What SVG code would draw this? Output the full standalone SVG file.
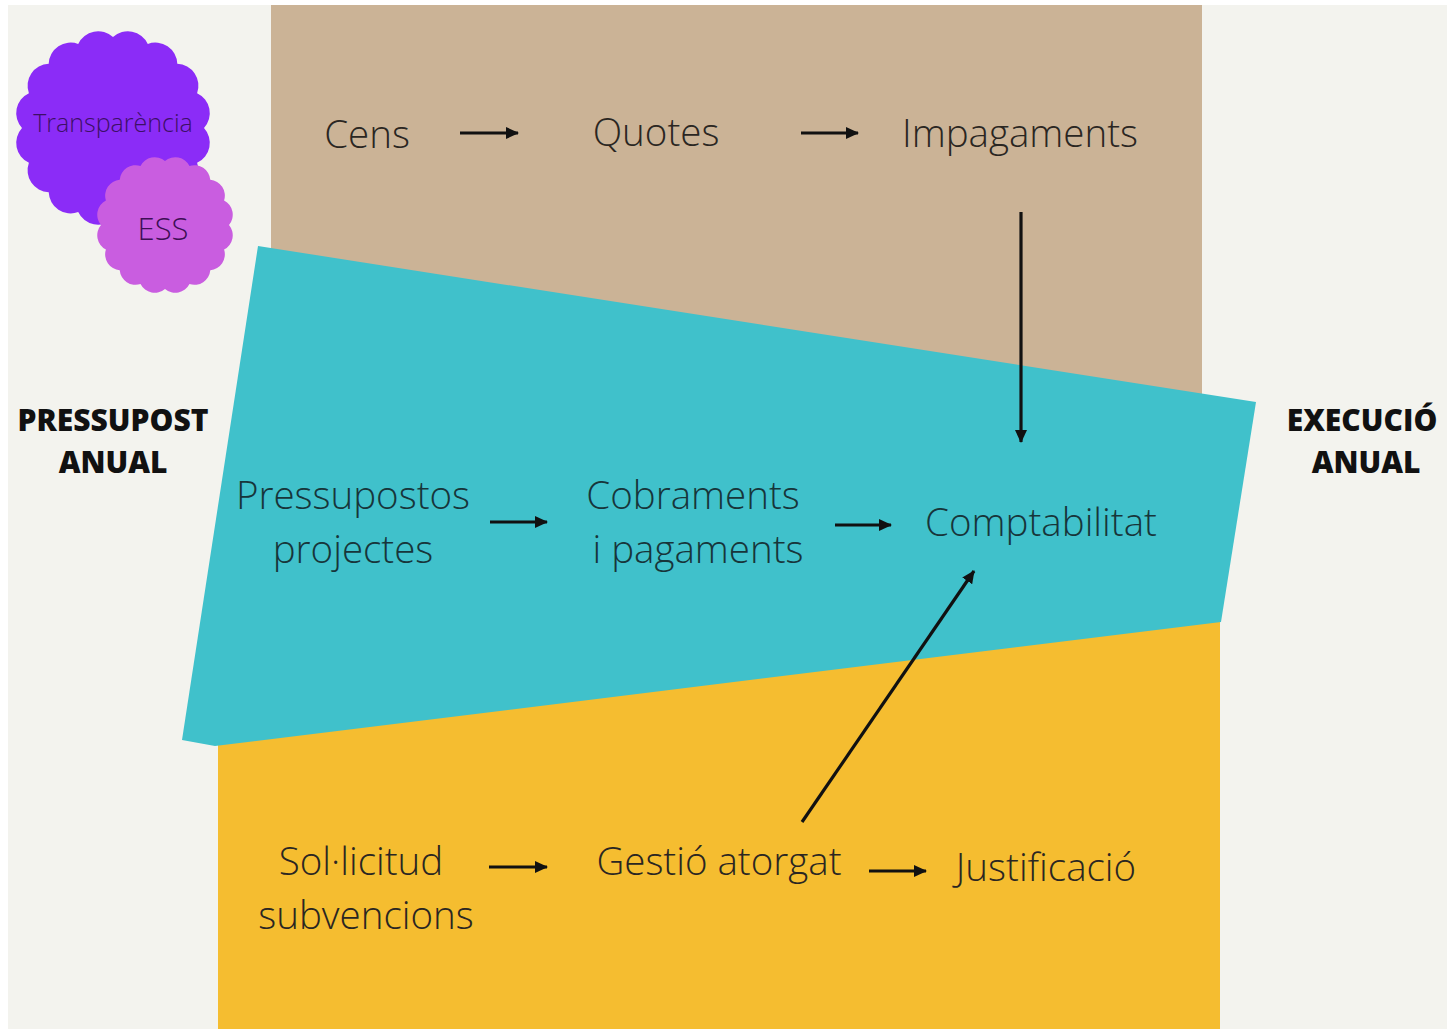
<svg xmlns="http://www.w3.org/2000/svg" width="1447" height="1029" viewBox="0 0 1447 1029">
<defs>
<style>
.t{font-family:"Open Sans","Liberation Sans",sans-serif;font-weight:300;font-size:38.5px;fill:#2a2622;text-anchor:middle}
.tt{fill:#17353a}
.b{font-family:"Open Sans","Liberation Sans",sans-serif;font-weight:800;font-size:30px;fill:#111;text-anchor:middle}
.c{stroke:#111;stroke-width:3.2;fill:none;marker-end:url(#ah)}
</style>
<marker id="ah" markerUnits="userSpaceOnUse" markerWidth="14" markerHeight="12" refX="12" refY="6" orient="auto">
<path d="M0,0 L13,6 L0,12 Z" fill="#111"/>
</marker>
</defs>
<rect x="0" y="0" width="1447" height="1029" fill="#ffffff"/>
<rect x="8" y="5" width="1439" height="1024" fill="#f3f3ee"/>
<g id="bands">
<rect x="271" y="5" width="931" height="400" fill="#cbb396"/>
<rect x="218" y="600" width="1002" height="429" fill="#f5bd30"/>
<polygon points="258,246 1256,402 1221,622 215,746 182,740" fill="#40c1cb"/>
</g>
<g id="transparencia">
<path d="M204,128 A22,22 0 0 1 197.1,162.8 A22,22 0 0 1 177.3,192.3 A22,22 0 0 1 147.8,212.1 A22,22 0 0 1 113,219 A22,22 0 0 1 78.2,212.1 A22,22 0 0 1 48.7,192.3 A22,22 0 0 1 28.9,162.8 A22,22 0 0 1 22,128 A22,22 0 0 1 28.9,93.2 A22,22 0 0 1 48.7,63.7 A22,22 0 0 1 78.2,43.9 A22,22 0 0 1 113,37 A22,22 0 0 1 147.8,43.9 A22,22 0 0 1 177.3,63.7 A22,22 0 0 1 197.1,93.2 A22,22 0 0 1 204,128 Z" fill="#8b2cf7"/>
<text x="113" y="132" style="font-family:'Open Sans','Liberation Sans',sans-serif;font-weight:300;font-size:25px;fill:#3d0f66;text-anchor:middle">Transparència</text>
</g>
<g id="ess">
<path d="M229,225 A16,16 0 0 1 224.1,249.5 A16,16 0 0 1 210.3,270.3 A16,16 0 0 1 189.5,284.1 A16,16 0 0 1 165,289 A16,16 0 0 1 140.5,284.1 A16,16 0 0 1 119.7,270.3 A16,16 0 0 1 105.9,249.5 A16,16 0 0 1 101,225 A16,16 0 0 1 105.9,200.5 A16,16 0 0 1 119.7,179.7 A16,16 0 0 1 140.5,165.9 A16,16 0 0 1 165,161 A16,16 0 0 1 189.5,165.9 A16,16 0 0 1 210.3,179.7 A16,16 0 0 1 224.1,200.5 A16,16 0 0 1 229,225 Z" fill="#c95de0"/>
<text x="163" y="240" style="font-family:'Open Sans','Liberation Sans',sans-serif;font-weight:300;font-size:31px;fill:#3d0f55;text-anchor:middle">ESS</text>
</g>
<g id="pressupost-anual"><text class="b" x="113" y="431">PRESSUPOST</text><text class="b" x="113" y="473">ANUAL</text></g>
<g id="execucio-anual"><text class="b" x="1362" y="431">EXECUCIÓ</text><text class="b" x="1366" y="473">ANUAL</text></g>
<g id="cens"><text class="t" x="367" y="148">Cens</text></g>
<g id="quotes"><text class="t" x="656" y="146">Quotes</text></g>
<g id="impagaments"><text class="t" x="1020" y="147">Impagaments</text></g>
<g id="pressupostos"><text class="t tt" x="353" y="509">Pressupostos</text><text class="t tt" x="353" y="563">projectes</text></g>
<g id="cobraments"><text class="t tt" x="693" y="509">Cobraments</text><text class="t tt" x="698" y="563">i pagaments</text></g>
<g id="comptabilitat"><text class="t tt" x="1041" y="536">Comptabilitat</text></g>
<g id="sollicitud"><text class="t" x="361" y="875">Sol·licitud</text><text class="t" x="366" y="929">subvencions</text></g>
<g id="gestio"><text class="t" x="719" y="875">Gestió atorgat</text></g>
<g id="justificacio"><text class="t" x="1046" y="881">Justificació</text></g>
<g id="connectors">
<line class="c" x1="460" y1="133" x2="518" y2="133"/>
<line class="c" x1="801" y1="133" x2="858" y2="133"/>
<line class="c" x1="1021" y1="212" x2="1021" y2="442"/>
<line class="c" x1="490" y1="522" x2="547" y2="522"/>
<line class="c" x1="835" y1="525" x2="891" y2="525"/>
<line class="c" x1="489" y1="867" x2="547" y2="867"/>
<line class="c" x1="869" y1="871" x2="926" y2="871"/>
<line class="c" x1="802" y1="822" x2="974" y2="571"/>
</g>
</svg>
